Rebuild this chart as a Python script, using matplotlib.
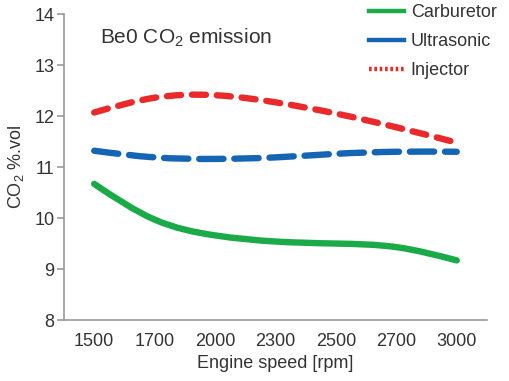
import numpy as np
import matplotlib
matplotlib.use("Agg")
import matplotlib.pyplot as plt
from matplotlib.path import Path
from matplotlib.patches import PathPatch
from matplotlib.lines import Line2D

plt.rcParams["font.family"] = ["Liberation Sans", "DejaVu Sans"]
plt.rcParams["mathtext.fontset"] = "custom"
plt.rcParams["mathtext.rm"] = "Liberation Sans"
plt.rcParams["mathtext.it"] = "Liberation Sans"

speeds = ["1500", "1700", "2000", "2300", "2500", "2700", "3000"]
carburetor = [10.67, 9.97, 9.66, 9.54, 9.50, 9.43, 9.17]
ultrasonic = [11.32, 11.19, 11.16, 11.19, 11.26, 11.30, 11.30]
injector = [12.07, 12.36, 12.41, 12.27, 12.05, 11.78, 11.48]


def spline_path(xs, ys):
    # natural cubic spline through the points, as Bezier segments
    xs = np.asarray(xs, float)
    ys = np.asarray(ys, float)
    n = len(xs)
    h = np.diff(xs)
    A = np.zeros((n, n))
    r = np.zeros(n)
    A[0, 0] = A[-1, -1] = 1.0
    for i in range(1, n - 1):
        A[i, i - 1] = h[i - 1]
        A[i, i] = 2 * (h[i - 1] + h[i])
        A[i, i + 1] = h[i]
        r[i] = 6 * ((ys[i + 1] - ys[i]) / h[i] - (ys[i] - ys[i - 1]) / h[i - 1])
    m = np.linalg.solve(A, r)
    verts = [(xs[0], ys[0])]
    codes = [Path.MOVETO]
    for i in range(n - 1):
        d0 = (ys[i + 1] - ys[i]) / h[i] - h[i] * (2 * m[i] + m[i + 1]) / 6
        d1 = (ys[i + 1] - ys[i]) / h[i] + h[i] * (m[i] + 2 * m[i + 1]) / 6
        verts += [(xs[i] + h[i] / 3, ys[i] + d0 * h[i] / 3),
                  (xs[i + 1] - h[i] / 3, ys[i + 1] - d1 * h[i] / 3),
                  (xs[i + 1], ys[i + 1])]
        codes += [Path.CURVE4] * 3
    return Path(verts, codes)


fig = plt.figure(figsize=(5.09, 3.81), dpi=100)
ax = fig.add_axes([0.1257, 0.160, 0.831, 0.803])

x = np.arange(len(speeds))
series = [
    (carburetor, "#1aab48", "solid", "Carburetor", "solid"),
    (ultrasonic, "#1565b5", (0, (3.8, 1.7)), "Ultrasonic", "solid"),
    (injector, "#ea2a2a", (0, (2.2, 1.7)), "Injector", (0, (0.6, 0.6))),
]
handles = []
for vals, color, ls, label, legend_ls in series:
    patch = PathPatch(spline_path(x, vals), facecolor="none", edgecolor=color,
                      linewidth=4.6, linestyle=ls, capstyle="round")
    ax.add_patch(patch)
    handles.append(Line2D([], [], color=color, linewidth=3.2, linestyle=legend_ls,
                          label=label))

ax.set_xlim(-0.5, 6.5)
ax.set_ylim(8, 14)
ax.set_xticks(x)
ax.set_xticklabels(speeds)
ax.set_yticks(range(8, 15))

for side in ["top", "right"]:
    ax.spines[side].set_visible(False)
for side in ["left", "bottom"]:
    ax.spines[side].set_color("#9a9a9a")
    ax.spines[side].set_linewidth(1.2)
ax.tick_params(axis="y", length=5, width=1.2, color="#9a9a9a", labelsize=13,
               labelcolor="#333333", pad=2)
ax.tick_params(axis="x", length=0, labelsize=13, labelcolor="#333333", pad=9)

ax.set_xlabel("Engine speed [rpm]", fontsize=13, color="#333333", labelpad=4)
ax.set_ylabel("CO$_2$ %.vol", fontsize=13, color="#333333", labelpad=6)

ax.text(0.085, 0.96, "Be0 CO$_2$ emission", transform=ax.transAxes,
        fontsize=15, color="#333333", va="top", ha="left")

leg = ax.legend(handles=handles, loc="upper right", bbox_to_anchor=(1.04, 1.055),
                frameon=False, fontsize=13, handlelength=1.9, handletextpad=0.4,
                labelspacing=0.65, borderaxespad=0)
for t in leg.get_texts():
    t.set_color("#333333")

fig.savefig("out.png", dpi=100, facecolor="white")
